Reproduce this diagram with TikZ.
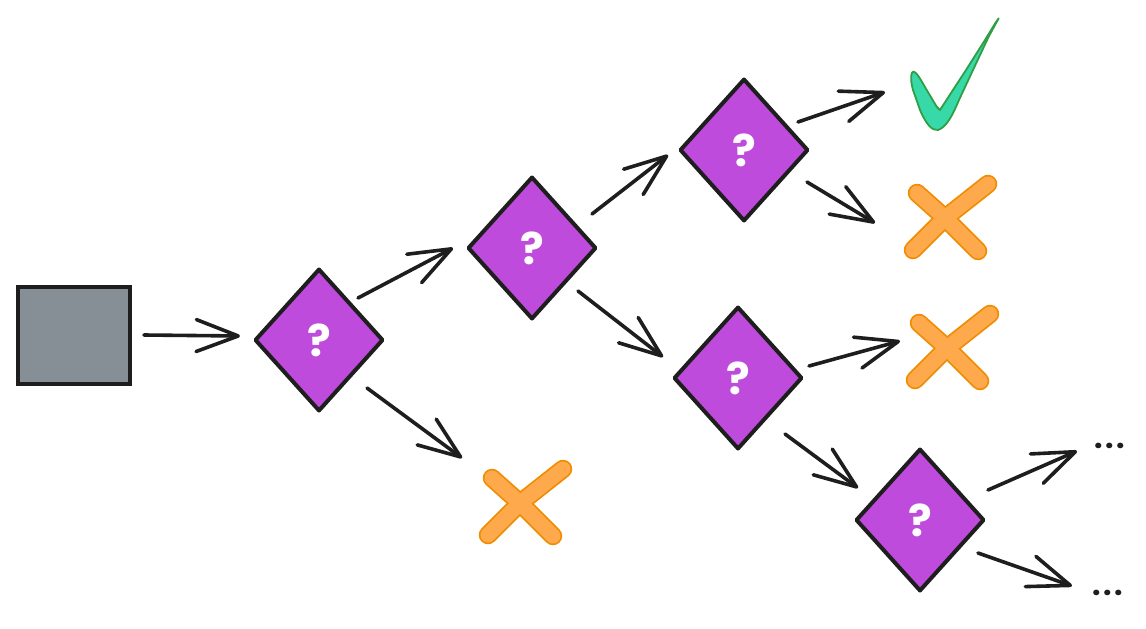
\documentclass[tikz,border=0pt]{standalone}
\usepackage{fontspec}
\newfontfamily\labelfont{Poppins}
\usetikzlibrary{shapes.geometric,arrows.meta}
\definecolor{ink}{HTML}{1E1E1E}
\definecolor{grapefill}{HTML}{BE4BDB}
\definecolor{slatefill}{HTML}{868E96}
\definecolor{mintfill}{HTML}{38D9A9}
\definecolor{mintline}{HTML}{2F9E44}
\definecolor{amberfill}{HTML}{FFA94D}
\definecolor{amberline}{HTML}{F08C00}
\tikzset{
  startbox/.style={draw=ink, fill=slatefill, line width=4pt, minimum width=112pt,
    minimum height=97pt, inner sep=0pt, outer sep=0pt},
  decision/.style={diamond, draw=ink, fill=grapefill, line width=4pt, line join=round,
    minimum width=127pt, minimum height=141pt, inner sep=0pt, outer sep=0pt,
    text=white, font=\labelfont\bfseries\fontsize{44}{44}\selectfont},
  ellipsis/.style={inner sep=0pt, text=ink, font=\labelfont\bfseries\fontsize{30}{30}\selectfont},
  conn/.style={draw=ink, line width=3.6pt, line cap=round, line join=round,
    -{Straight Barb[length=42pt, width=32pt, round]}},
  checkmark/.style={draw=mintline, fill=mintfill, line width=1.8pt, line join=round},
  pics/cross/.style={code={
    \draw[amberline, line width=18.5pt, line cap=round] (-28,-25) -- (0,0) -- (33,33);
    \draw[amberline, line width=18.5pt, line cap=round] (43,-34) -- (0,0) -- (-32,32);
    \draw[amberfill, line width=15pt, line cap=round] (-28,-25) -- (0,0) -- (33,33);
    \draw[amberfill, line width=15pt, line cap=round] (43,-34) -- (0,0) -- (-32,32);
  }}
}
\begin{document}
\begin{tikzpicture}[x=1pt,y=-1pt]
  \useasboundingbox (0,0) rectangle (1146,629);

  % start state and decision diamonds
  \node[startbox] (sq) at (74,335.5) {};
  \node[decision] (d1) at (319,340) {?};
  \node[decision] (d2) at (532,248) {?};
  \node[decision] (d3) at (744,150) {?};
  \node[decision] (d4) at (738,378) {?};
  \node[decision] (d5) at (920,520) {?};

  % outcomes
  \coordinate (x1) at (520,503);
  \coordinate (x2) at (945,218);
  \coordinate (x3) at (947,348);
  \coordinate (ok) at (950,75);
  \pic at (x1) {cross};
  \pic at (x2) {cross};
  \pic at (x3) {cross};
  \draw[checkmark] (998.7,18.3) -- (989,36) -- (973,70) -- (959,100)
    .. controls (953,114) and (947,127) .. (938,130)
    .. controls (932,131) and (926,124) .. (920,110)
    -- (913,90)
    .. controls (910,80) and (911,71) .. (913.5,71.5)
    .. controls (916.5,72) and (921,80) .. (926.7,90)
    -- (936.7,106.7) -- (940,110) -- (951,93) -- (966,70) -- (985,40) -- (996,22) -- cycle;
  \node[ellipsis] (e1) at (1110,446) {.\hspace{2.5pt}.\hspace{2.5pt}.};
  \node[ellipsis] (e2) at (1108,593) {.\hspace{2.5pt}.\hspace{2.5pt}.};

  % connectors
  \draw[conn] ([shift={(70,-0.5)}]sq.center) -- ([shift={(-79,-4)}]d1.center);
  \draw[conn] ([shift={(39,-42)}]d1.center) -- ([shift={(-79,0)}]d2.center);
  \draw[conn] ([shift={(48,48)}]d1.center) -- ([shift={(-58,-45)}]x1);
  \draw[conn] ([shift={(60,-34)}]d2.center) -- ([shift={(-76,5)}]d3.center);
  \draw[conn] ([shift={(46,43)}]d2.center) -- ([shift={(-75,-21)}]d4.center);
  \draw[conn] ([shift={(54,-28)}]d3.center) -- ([shift={(-65,17)}]ok);
  \draw[conn] ([shift={(63,32)}]d3.center) -- ([shift={(-70,5)}]x2);
  \draw[conn] ([shift={(71,-12)}]d4.center) -- ([shift={(-47,-7)}]x3);
  \draw[conn] ([shift={(47,56)}]d4.center) -- ([shift={(-62,-32)}]d5.center);
  \draw[conn] ([shift={(68,-30)}]d5.center) -- ([shift={(-33,5)}]e1.center);
  \draw[conn] ([shift={(58,33)}]d5.center) -- ([shift={(-36,-7)}]e2.center);
\end{tikzpicture}
\end{document}
